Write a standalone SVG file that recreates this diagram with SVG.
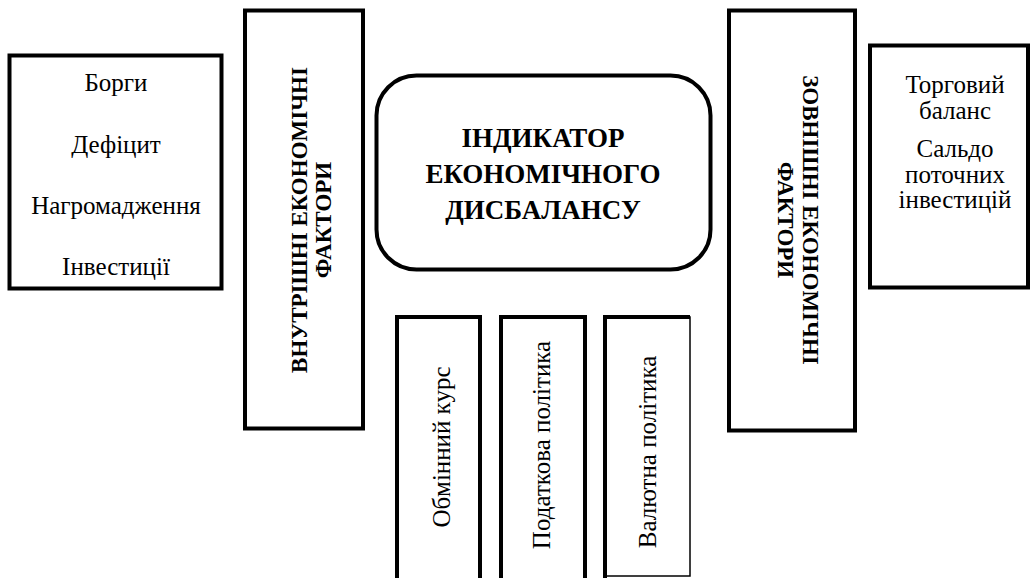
<svg xmlns="http://www.w3.org/2000/svg" width="1030" height="578" viewBox="0 0 1030 578">
<style>
.box{fill:#fff;stroke:#000;stroke-width:4}
.thin{fill:none;stroke:#000;stroke-width:1.5}
.t{font-family:"Liberation Serif","Times New Roman",serif;font-size:25px;fill:#000;text-anchor:middle}
.b{font-family:"Liberation Serif","Times New Roman",serif;font-weight:bold;fill:#000;text-anchor:middle}
</style>
<rect width="1030" height="578" fill="#fff"/>
<g id="connectors"></g>
<g id="internal-list">
<rect class="box" x="9.5" y="55.5" width="212" height="233"/>
<text class="t" x="116" y="91">Борги</text>
<text class="t" x="116" y="153">Дефіцит</text>
<text class="t" x="116" y="214">Нагромадження</text>
<text class="t" x="116" y="275">Інвестиції</text>
</g>
<g id="internal-factors">
<rect class="box" x="245" y="10.5" width="118" height="418"/>
<text class="b" font-size="23" transform="translate(307,220) rotate(-90)">ВНУТРІШНІ ЕКОНОМІЧНІ</text>
<text class="b" font-size="23" transform="translate(331,220) rotate(-90)">ФАКТОРИ</text>
</g>
<g id="indicator">
<rect class="box" x="376.5" y="75.5" width="334" height="194" rx="40" ry="40"/>
<text class="b" font-size="27" x="543" y="147">ІНДИКАТОР</text>
<text class="b" font-size="27" x="543" y="183">ЕКОНОМІЧНОГО</text>
<text class="b" font-size="27" x="543" y="219">ДИСБАЛАНСУ</text>
</g>
<g id="external-factors">
<rect class="box" x="729" y="10.5" width="126" height="420"/>
<text class="b" font-size="23" transform="translate(803,220) rotate(90)">ЗОВНІШНІ ЕКОНОМІЧНІ</text>
<text class="b" font-size="23" transform="translate(778,220) rotate(90)">ФАКТОРИ</text>
</g>
<g id="external-list">
<rect class="box" x="870" y="45.5" width="158" height="242"/>
<text class="t" x="955" y="93">Торговий</text>
<text class="t" x="955" y="119">баланс</text>
<text class="t" x="955" y="157">Сальдо</text>
<text class="t" x="955" y="183">поточних</text>
<text class="t" x="955" y="208">інвестицій</text>
</g>
<g id="exchange-rate">
<rect class="box" x="397" y="317" width="83" height="300"/>
<text class="t" font-size="24.5" transform="translate(450,447) rotate(-90)">Обмінний курс</text>
</g>
<g id="tax-policy">
<rect class="box" x="501" y="317" width="84" height="300"/>
<text class="t" font-size="24.5" transform="translate(550,445) rotate(-90)">Податкова політика</text>
</g>
<g id="currency-policy">
<rect class="thin" x="605" y="317" width="85" height="259"/>
<path d="M605 578V317H690" fill="none" stroke="#000" stroke-width="4"/>
<text class="t" font-size="24.5" transform="translate(656,452) rotate(-90)">Валютна політика</text>
</g>
</svg>
